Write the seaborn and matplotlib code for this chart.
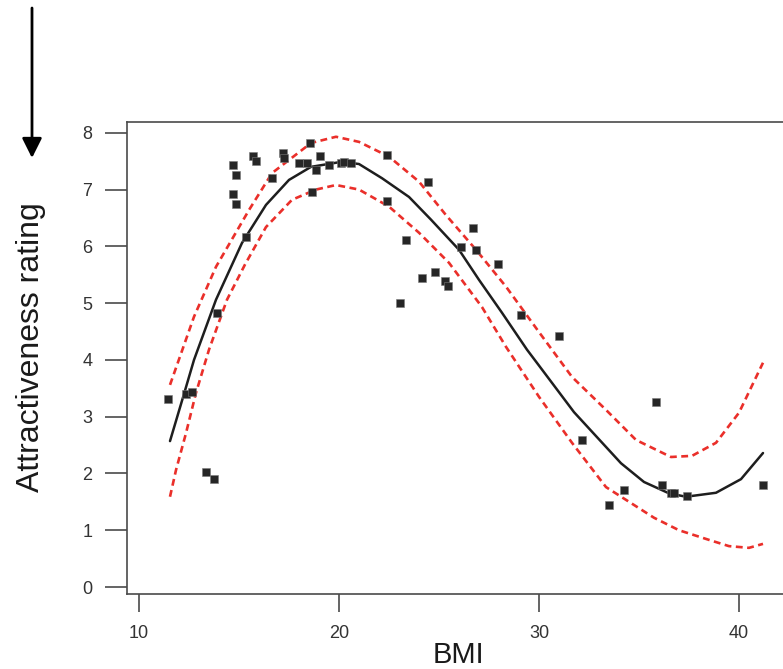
import matplotlib
matplotlib.use('Agg')
import matplotlib.pyplot as plt
import seaborn as sns
import pandas as pd

# observed points
bmi = [11.45, 12.35, 12.65, 13.35, 13.75, 13.9, 14.7, 14.85, 14.7, 14.85,
       15.35, 15.7, 15.85, 16.65, 17.2, 17.25, 18.0, 18.4, 18.55, 18.65,
       18.85, 19.05, 19.5, 20.1, 20.25, 20.6, 22.4, 22.4, 23.05, 23.35,
       24.15, 24.45, 24.8, 25.3, 25.45, 26.1, 26.7, 26.85, 27.95, 29.1,
       31.0, 32.15, 33.5, 34.25, 35.85, 36.15, 36.6, 36.75, 37.4, 41.2]
rating = [3.31, 3.40, 3.44, 2.03, 1.90, 4.83, 7.44, 7.26, 6.92, 6.75,
          6.17, 7.59, 7.51, 7.21, 7.65, 7.56, 7.47, 7.47, 7.82, 6.96,
          7.35, 7.59, 7.44, 7.47, 7.49, 7.47, 7.61, 6.80, 5.00, 6.11,
          5.44, 7.14, 5.55, 5.39, 5.30, 5.99, 6.33, 5.94, 5.69, 4.79,
          4.42, 2.59, 1.44, 1.71, 3.26, 1.80, 1.66, 1.66, 1.60, 1.80]

# fitted curve
fit_x = [11.55, 12.25, 12.75, 13.85, 15.15, 16.35, 17.5, 18.6, 20.15, 21.0,
         22.15, 23.5, 24.6, 26.0, 27.0, 28.15, 29.4, 30.0, 31.75, 34.1,
         35.25, 36.5, 37.35, 38.85, 40.1, 41.2]
fit_y = [2.57, 3.40, 4.0, 5.06, 6.06, 6.73, 7.17, 7.40, 7.49, 7.45,
         7.2, 6.87, 6.47, 5.94, 5.41, 4.83, 4.18, 3.90, 3.08, 2.18,
         1.85, 1.65, 1.59, 1.66, 1.90, 2.36]

# upper band
up_x = [11.55, 12.75, 13.85, 15.5, 16.65, 18.6, 19.85, 21.0, 22.5, 24.0,
        25.35, 26.85, 28.35, 30.0, 31.65, 33.35, 34.85, 36.6, 37.65, 38.85,
        40.0, 41.2]
up_y = [3.56, 4.76, 5.64, 6.64, 7.29, 7.82, 7.93, 7.84, 7.58, 7.14,
        6.55, 5.94, 5.29, 4.49, 3.70, 3.12, 2.59, 2.29, 2.31, 2.54,
        3.07, 3.95]

# lower band
lo_x = [11.55, 11.85, 12.35, 12.85, 13.5, 14.4, 15.3, 16.35, 17.65, 18.85,
        19.85, 21.0, 22.5, 24.0, 25.5, 27.15, 28.35, 30.0, 31.65, 33.35,
        35.75, 37.0, 38.5, 39.5, 40.5, 41.2]
lo_y = [1.59, 2.06, 2.71, 3.42, 4.18, 5.06, 5.68, 6.34, 6.82, 7.0,
        7.08, 7.0, 6.70, 6.24, 5.71, 4.93, 4.23, 3.35, 2.54, 1.76,
        1.22, 1.0, 0.83, 0.72, 0.69, 0.76]

sns.set_style('white')
plt.rcParams['font.family'] = ['Liberation Sans', 'DejaVu Sans']

W, H = 783, 669
fig = plt.figure(figsize=(W / 100, H / 100), dpi=100)
ax = fig.add_axes([127 / W, 1 - 594 / H, (800 - 127) / W, (594 - 122) / H])

red = '#ea2f2a'
for xs, ys in [(up_x, up_y), (lo_x, lo_y)]:
    sns.lineplot(x=xs, y=ys, ax=ax, color=red, lw=1.9, sort=False,
                 estimator=None, linestyle=(0, (2.6, 1.7)))
sns.lineplot(x=fit_x, y=fit_y, ax=ax, color='#1e1e1e', lw=1.8, sort=False,
             estimator=None)

pts = pd.DataFrame({'BMI': bmi, 'rating': rating})
sns.scatterplot(data=pts, x='BMI', y='rating', ax=ax, marker='s', s=34,
                color='#262626', edgecolor='#7a7a7a', linewidth=0.4, zorder=5)

ax.set_xlim(9.4, 9.4 + (800 - 127) / 20)
ax.set_ylim(-0.123, 8.19)
ax.set_xticks([10, 20, 30, 40])
ax.set_yticks(range(0, 9))

for s in ax.spines.values():
    s.set_color('#4a4a4a')
    s.set_linewidth(1.2)
ax.tick_params(axis='y', direction='out', length=16, width=1.2, color='#4a4a4a',
               pad=9, labelsize=13, labelcolor='#333333', left=True)
ax.tick_params(axis='x', direction='out', length=13, width=1.2, color='#4a4a4a',
               pad=9, labelsize=13, labelcolor='#333333', bottom=True)

ax.set_xlabel('BMI', fontsize=21, color='#1a1a1a')
ax.set_ylabel('Attractiveness rating', fontsize=23, color='#1a1a1a')
ax.xaxis.set_label_coords((458 - 127) / 673, (594 - 641) / 472)
ax.yaxis.set_label_coords((46 - 127) / 673, (594 - 347) / 472)

ax.annotate('', xy=(32, H - 158), xytext=(32, H - 8),
            xycoords='figure pixels', textcoords='figure pixels',
            arrowprops=dict(arrowstyle='-|>', lw=2, color='black',
                            mutation_scale=30, shrinkA=0, shrinkB=0))

fig.savefig('out.png', dpi=100)
